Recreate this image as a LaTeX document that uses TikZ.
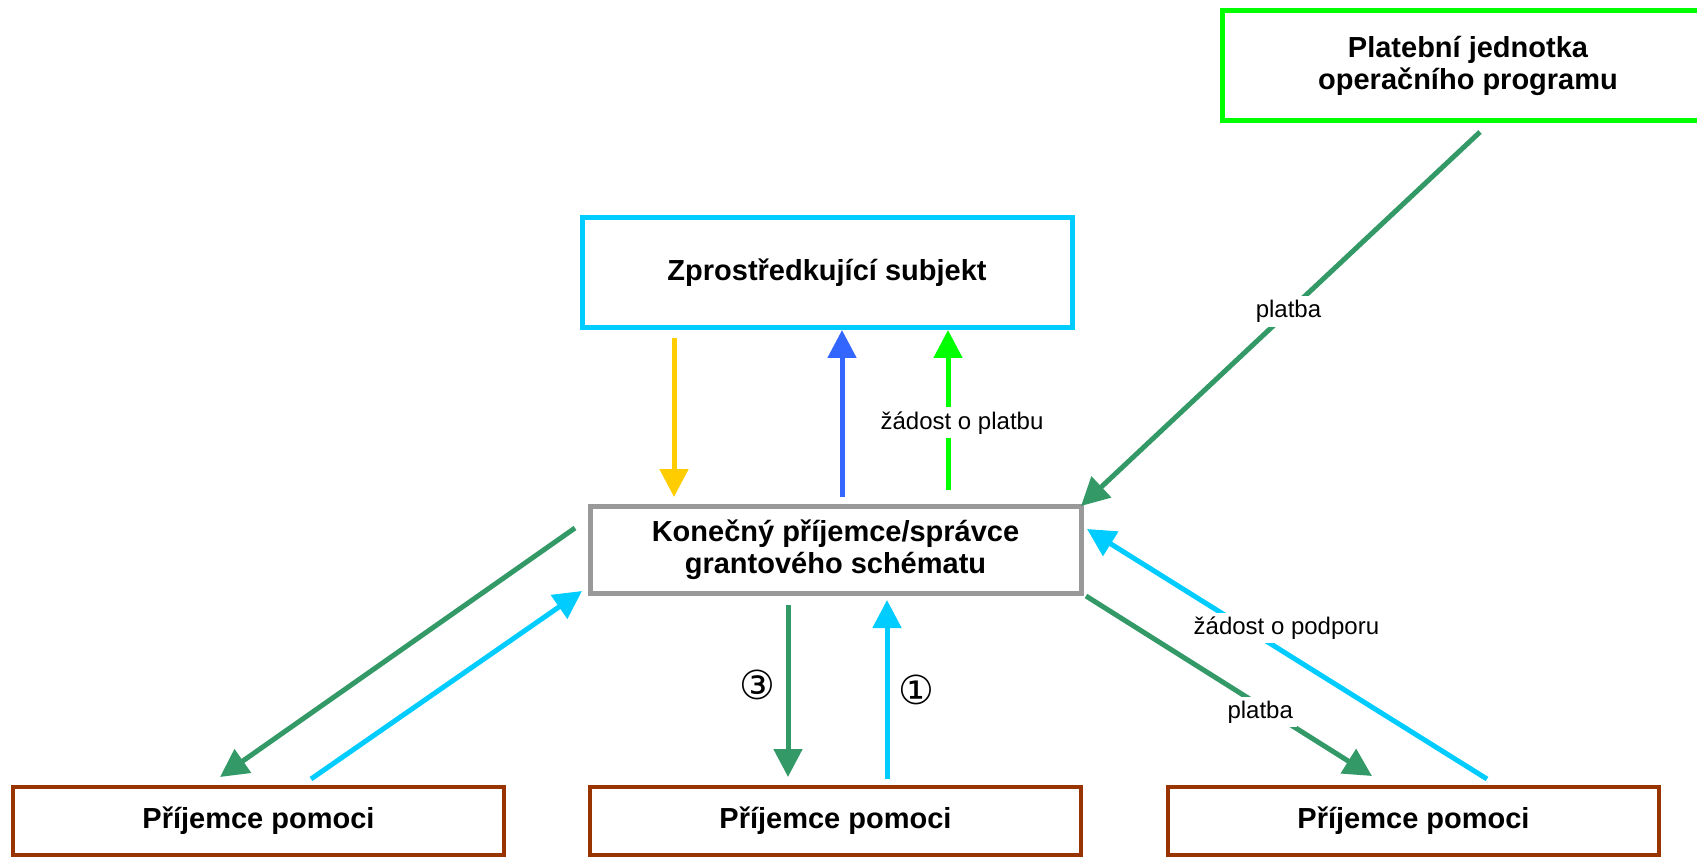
\documentclass[tikz,border=0pt]{standalone}
\usepackage{fontspec}
\setmainfont{Liberation Sans}
\newfontfamily\circfont{DejaVu Sans}
\usetikzlibrary{arrows.meta}
\definecolor{paygreen}{RGB}{0,255,0}
\definecolor{flowgreen}{RGB}{51,153,102}
\definecolor{skyblue}{RGB}{0,204,255}
\definecolor{royalblue}{RGB}{51,102,255}
\definecolor{gold}{RGB}{255,204,0}
\definecolor{boxgray}{RGB}{153,153,153}
\definecolor{rust}{RGB}{153,51,0}

\begin{document}
\begin{tikzpicture}[x=1pt,y=-1pt,
    box/.style={draw, line width=5pt, fill=white, inner sep=0pt, outer sep=0pt,
        minimum width=491pt, align=center,
        font=\fontsize{29}{32}\selectfont\bfseries},
    flow/.style={line width=5pt, -{Triangle[width=28pt,length=28pt]}},
    lbl/.style={fill=white, text=black, inner sep=4pt, font=\fontsize{24}{28}\selectfont},
    num/.style={inner sep=0pt, text=black, font=\circfont\fontsize{40}{44}\selectfont}]
    \useasboundingbox (0,0) rectangle (1697,858);
    \clip (0,0) rectangle (1697,858);

    % Boxes
    \node[box, draw=paygreen, minimum width=492pt, minimum height=110pt] (pay) at (1468,66) {Platební jednotka\\operačního programu};
    \node[box, draw=skyblue, minimum width=490pt, minimum height=110pt] (zs) at (827,273) {Zprostředkující subjekt};
    \node[box, draw=boxgray, minimum height=87pt] (kp) at (835.5,549.5) {Konečný příjemce/správce\\grantového schématu};
    \node[box, draw=rust, line width=4.5pt, minimum height=68pt] (pr1) at (258.5,821) {Příjemce pomoci};
    \node[box, draw=rust, line width=4.5pt, minimum height=68pt] (pr2) at (835.5,821) {Příjemce pomoci};
    \node[box, draw=rust, line width=4.5pt, minimum height=68pt] (pr3) at (1413.5,821) {Příjemce pomoci};

    % Between the intermediate body and the final beneficiary
    \draw[flow, gold] ([xshift=-153pt,yshift=-10pt]zs.south) -- ([xshift=-161.5pt,yshift=9pt]kp.north);
    \draw[flow, royalblue] ([xshift=6.5pt,yshift=9pt]kp.north) -- ([xshift=15pt,yshift=-2pt]zs.south);
    \draw[flow, paygreen] ([xshift=112.5pt,yshift=16pt]kp.north) -- node[lbl, pos=0.42, xshift=14pt] {žádost o platbu} ([xshift=121pt,yshift=-2pt]zs.south);

    % Payment from the paying unit
    \draw[flow, flowgreen] ([xshift=12pt,yshift=-11pt]pay.south) -- node[lbl, pos=0.48] {platba} (kp.north east);

    % Left recipient
    \draw[flow, flowgreen] ([xshift=-15pt,yshift=21.5pt]kp.west) -- ([xshift=-38.5pt,yshift=10pt]pr1.north);
    \draw[flow, skyblue] ([xshift=52.5pt,yshift=8pt]pr1.north) -- ([xshift=-8pt,yshift=2pt]kp.south west);

    % Middle recipient
    \draw[flow, flowgreen] ([xshift=-47.5pt,yshift=-12pt]kp.south) -- node[num, pos=0.465, xshift=-31pt] {③} ([xshift=-47.5pt,yshift=10pt]pr2.north);
    \draw[flow, skyblue] ([xshift=51.5pt,yshift=8pt]pr2.north) -- node[num, pos=0.5, xshift=29pt] {①} ([xshift=51.5pt,yshift=-7pt]kp.south);

    % Right recipient
    \draw[flow, flowgreen] ([xshift=5pt,yshift=-3pt]kp.south east) -- node[lbl, pos=0.644, xshift=-10pt] {platba} ([xshift=-41.5pt,yshift=11pt]pr3.north);
    \draw[flow, skyblue] ([xshift=73.5pt,yshift=8pt]pr3.north) -- node[lbl, pos=0.604, xshift=41pt] {žádost o podporu} ([xshift=6pt,yshift=20.5pt]kp.east);
\end{tikzpicture}
\end{document}
